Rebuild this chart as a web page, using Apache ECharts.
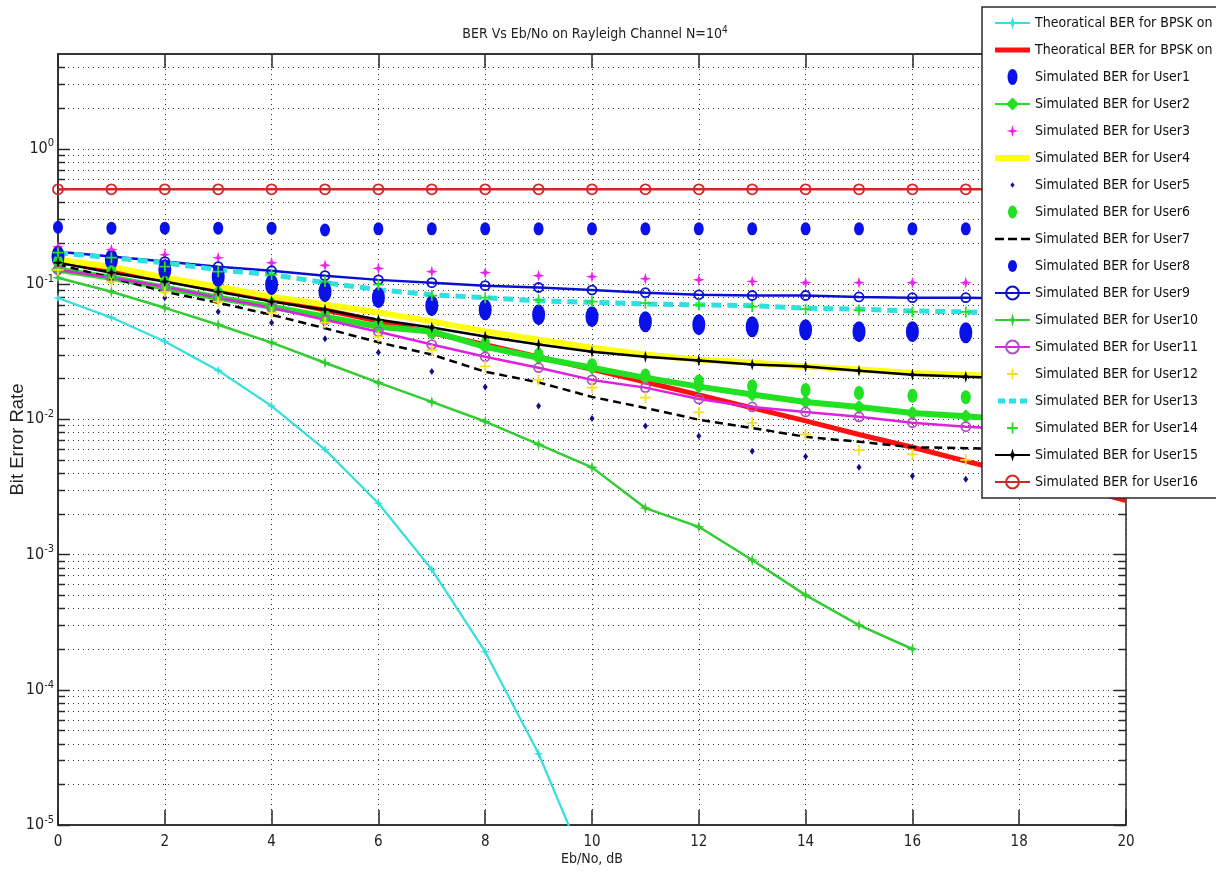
<!DOCTYPE html>
<html>
<head>
<meta charset="utf-8">
<script src="https://cdn.jsdelivr.net/npm/echarts@6/dist/echarts.min.js"></script>
<style>
  html, body { margin: 0; padding: 0; background: #fff; }
  #chart { width: 1216px; height: 876px; }
</style>
</head>
<body>
<div id="chart"></div>
<script>
// Eb/No axis (dB)
const ebNo = [0, 1, 2, 3, 4, 5, 6, 7, 8, 9, 10, 11, 12, 13, 14, 15, 16, 17, 18, 19, 20];
const xTicks = [0, 2, 4, 6, 8, 10, 12, 14, 16, 18, 20];

// Theoretical curves
const berAwgnTheory = [0.0786, 0.0563, 0.0375, 0.0229, 0.0125, 0.00595, 0.00239, 0.000773, 0.000191, 0.0000336, 0.00000387];
const berRayleighTheory = [0.146, 0.127, 0.109, 0.092, 0.077, 0.064, 0.053, 0.0435, 0.0355, 0.0288, 0.0233, 0.0188, 0.0151, 0.0121, 0.0097, 0.0077, 0.0062, 0.0049, 0.0039, 0.0032, 0.0025];

// Simulated BER per user
const user1 = [0.159, 0.151, 0.127, 0.113, 0.0986, 0.0875, 0.079, 0.069, 0.0644, 0.0592, 0.0572, 0.0525, 0.0499, 0.0482, 0.0458, 0.0443, 0.0443, 0.0435, 0.043, 0.042, 0.042];
const user2 = [0.127, 0.111, 0.0937, 0.079, 0.0677, 0.0572, 0.0482, 0.0445, 0.0342, 0.0284, 0.024, 0.0202, 0.0174, 0.0152, 0.0134, 0.0123, 0.0111, 0.0105, 0.0098, 0.0093, 0.0088];
const user3 = [0.188, 0.179, 0.164, 0.156, 0.143, 0.137, 0.130, 0.123, 0.121, 0.115, 0.113, 0.109, 0.107, 0.104, 0.102, 0.102, 0.102, 0.102, 0.101, 0.100, 0.100];
const user4 = [0.151, 0.134, 0.111, 0.0953, 0.0805, 0.0703, 0.0614, 0.0528, 0.0445, 0.0386, 0.0337, 0.030, 0.0275, 0.0262, 0.0245, 0.0233, 0.0219, 0.0213, 0.0205, 0.0198, 0.0192];
const user5 = [0.146, 0.107, 0.079, 0.0623, 0.0516, 0.0392, 0.0311, 0.0225, 0.0173, 0.0125, 0.0101, 0.0089, 0.0075, 0.0058, 0.0053, 0.0044, 0.0038, 0.0036, 0.0033, 0.0031, 0.0029];
const user6 = [0.146, 0.122, 0.102, 0.085, 0.070, 0.058, 0.050, 0.044, 0.036, 0.030, 0.025, 0.021, 0.019, 0.0175, 0.0164, 0.0156, 0.0149, 0.0145, 0.014, 0.0136, 0.0132];
const user7 = [0.139, 0.111, 0.0874, 0.0725, 0.059, 0.047, 0.037, 0.030, 0.0224, 0.0187, 0.0146, 0.0121, 0.0099, 0.0086, 0.0074, 0.0068, 0.0062, 0.0061, 0.0060, 0.0059, 0.0058];
const user8 = [0.262, 0.258, 0.258, 0.258, 0.258, 0.250, 0.255, 0.255, 0.255, 0.255, 0.255, 0.255, 0.255, 0.255, 0.255, 0.255, 0.255, 0.255, 0.255, 0.255, 0.255];
const user9 = [0.173, 0.159, 0.146, 0.134, 0.125, 0.115, 0.107, 0.102, 0.097, 0.094, 0.090, 0.086, 0.083, 0.082, 0.082, 0.080, 0.079, 0.079, 0.078, 0.078, 0.077];
const user10 = [0.111, 0.0874, 0.0665, 0.0499, 0.0368, 0.0261, 0.0186, 0.0134, 0.0096, 0.0065, 0.0044, 0.0022, 0.0016, 0.00091, 0.0005, 0.0003, 0.0002];
const user11 = [0.127, 0.111, 0.0953, 0.079, 0.0665, 0.0543, 0.0443, 0.0356, 0.0289, 0.0240, 0.0195, 0.0171, 0.0141, 0.0123, 0.0113, 0.0104, 0.0094, 0.0088, 0.0084, 0.0080, 0.0077];
const user12 = [0.127, 0.104, 0.0874, 0.0739, 0.0614, 0.0516, 0.0408, 0.0325, 0.0245, 0.0195, 0.0171, 0.0144, 0.0112, 0.0094, 0.0077, 0.0059, 0.0055, 0.0050, 0.0047, 0.0044, 0.0042];
const user13 = [0.170, 0.156, 0.143, 0.127, 0.117, 0.102, 0.0904, 0.083, 0.079, 0.075, 0.073, 0.071, 0.070, 0.069, 0.066, 0.065, 0.063, 0.062, 0.061, 0.060, 0.059];
const user14 = [0.170, 0.156, 0.134, 0.123, 0.117, 0.104, 0.0986, 0.082, 0.079, 0.076, 0.074, 0.072, 0.070, 0.068, 0.065, 0.064, 0.062, 0.062, 0.061, 0.061, 0.060];
const user15 = [0.1435, 0.121, 0.104, 0.0874, 0.0739, 0.0644, 0.0543, 0.0475, 0.0408, 0.0356, 0.0315, 0.0289, 0.0271, 0.0253, 0.0245, 0.0228, 0.0213, 0.0206, 0.020, 0.0195, 0.019];
const user16 = [0.5, 0.5, 0.5, 0.5, 0.5, 0.5, 0.5, 0.5, 0.5, 0.5, 0.5, 0.5, 0.5, 0.5, 0.5, 0.5, 0.5, 0.5, 0.5, 0.5, 0.5];

const yMin = 1e-5;
const yMax = 5;

const NARROW = "'Liberation Sans Narrow', 'Arial Narrow', 'DejaVu Sans Condensed', sans-serif";
const REGULAR = "'Liberation Sans', Arial, sans-serif";
const AXIS_COLOR = '#2a2a2a';
const TEXT_COLOR = '#222';

// marker shapes
const STAR = 'path://M0,-10 L2.2,-2.2 L10,0 L2.2,2.2 L0,10 L-2.2,2.2 L-10,0 L-2.2,-2.2 Z';
const PLUS = 'path://M-1.6,-10 H1.6 V-1.6 H10 V1.6 H1.6 V10 H-1.6 V1.6 H-10 V-1.6 H-1.6 Z';

// legend glyphs drawn inside a fixed 35 x 16 frame
const ICON_W = 35, ICON_H = 16;
const framed = inner => 'path://M0,0 M' + ICON_W + ',' + ICON_H + ' ' + inner;
const ellipse = (rx, ry) => {
  const cx = ICON_W / 2, cy = ICON_H / 2;
  return 'M' + cx + ',' + (cy - ry) + ' A' + rx + ',' + ry + ' 0 1,1 ' + cx + ',' + (cy + ry) +
         ' A' + rx + ',' + ry + ' 0 1,1 ' + cx + ',' + (cy - ry) + ' Z';
};
const ICON_BAR = h => framed('M0,' + (8 - h / 2) + ' H35 V' + (8 + h / 2) + ' H0 Z');
const ICON_DASH = (h, segs) => framed(segs.map(s => 'M' + s[0] + ',' + (8 - h / 2) + ' H' + s[1] + ' V' + (8 + h / 2) + ' H' + s[0] + ' Z').join(' '));
const ICON_STAR = framed('M17.5,2 L18.8,6.7 L23.5,8 L18.8,9.3 L17.5,14 L16.2,9.3 L11.5,8 L16.2,6.7 Z');
const ICON_PLUS = framed('M16.6,2.5 H18.4 V7.1 H23 V8.9 H18.4 V13.5 H16.6 V8.9 H12 V7.1 H16.6 Z');
const ICON_DOT = framed('M17.5,5.2 L19.6,8 L17.5,10.8 L15.4,8 Z');

const pairs = vals => vals.map((v, i) => [ebNo[i], v]);

// log grid rows: decades get a long tick, 2..9 multiples a short one
const yGridRows = [];
for (let d = -5; d <= 0; d++) {
  yGridRows.push([0, Math.pow(10, d), 12]);
  for (let k = 2; k <= 9; k++) {
    const v = k * Math.pow(10, d);
    if (v < yMax) yGridRows.push([0, v, 7]);
  }
}

function lineSeries(name, vals, color, width, opts) {
  return Object.assign({
    type: 'line', name: name, data: pairs(vals), color: color,
    symbol: 'none', showAllSymbol: true, clip: true, z: 3,
    lineStyle: { color: color, width: width },
    emphasis: { disabled: true }
  }, opts || {});
}
function markerSeries(name, vals, color, symbol, size) {
  return {
    type: 'scatter', name: name, data: pairs(vals), color: color,
    symbol: symbol, symbolSize: size, z: 3,
    itemStyle: { color: color, opacity: 1 },
    emphasis: { disabled: true }
  };
}
function openCircle(color) {
  return { color: 'rgba(255,255,255,0)', borderColor: color, borderWidth: 1.8 };
}

const names = [
  'Theoratical BER for BPSK on AWGN', 'Theoratical BER for BPSK on Rayleigh'
];
for (let u = 1; u <= 16; u++) names.push('Simulated BER for User' + u);

// legend entries; glyphs given where the default icon would not fit
const legendIcons = {
  1: ICON_BAR(5),
  2: framed(ellipse(5, 8)),
  4: ICON_STAR,
  5: ICON_BAR(6),
  6: ICON_DOT,
  7: framed(ellipse(4.5, 6.5)),
  8: ICON_DASH(2.5, [[0, 9], [13, 22], [26, 35]]),
  9: framed(ellipse(4.5, 6)),
  13: ICON_PLUS,
  14: ICON_DASH(5, [[3, 10], [14, 21], [25, 32]]),
  15: ICON_PLUS
};
const legendData = names.map((n, i) => (legendIcons[i] ? { name: n, icon: legendIcons[i] } : { name: n }));

const series = [
  {
    type: 'custom', name: 'log-grid', silent: true, z: 1, data: yGridRows,
    encode: { x: 0, y: 1 },
    renderItem: function (params, api) {
      const y = Math.round(api.coord([0, api.value(1)])[1]) + 0.5;
      const len = api.value(2);
      const cs = params.coordSys;
      const x0 = cs.x, x1 = cs.x + cs.width;
      return {
        type: 'group', children: [
          { type: 'line', shape: { x1: x0, y1: y, x2: x1, y2: y }, style: { stroke: '#333', lineWidth: 1, lineDash: [1, 4] } },
          { type: 'line', shape: { x1: x0, y1: y, x2: x0 + len, y2: y }, style: { stroke: AXIS_COLOR, lineWidth: 1.5 } },
          { type: 'line', shape: { x1: x1 - len, y1: y, x2: x1, y2: y }, style: { stroke: AXIS_COLOR, lineWidth: 1.5 } }
        ]
      };
    }
  },
  lineSeries(names[0], berAwgnTheory, '#36dede', 2.2, { symbol: STAR, symbolSize: 10 }),
  lineSeries(names[1], berRayleighTheory, '#ff1010', 5),
  markerSeries(names[2], user1, '#0a10e8', 'circle', [13, 21]),
  lineSeries(names[3], user2, '#22e022', 6, { symbol: 'diamond', symbolSize: 14 }),
  markerSeries(names[4], user3, '#f020f0', STAR, 12),
  lineSeries(names[5], user4, '#ffff10', 6),
  markerSeries(names[6], user5, '#10108a', 'diamond', [5, 7]),
  markerSeries(names[7], user6, '#22e022', 'circle', [10, 14]),
  lineSeries(names[8], user7, '#000000', 2.5, { lineStyle: { color: '#000', width: 2.5, type: [8, 5] } }),
  markerSeries(names[9], user8, '#0a10e8', 'circle', [10, 13]),
  lineSeries(names[10], user9, '#0a10d0', 2.5, { symbol: 'circle', symbolSize: 9, itemStyle: openCircle('#0a10d0') }),
  lineSeries(names[11], user10, '#33cc33', 2.5, { symbol: STAR, symbolSize: 12 }),
  lineSeries(names[12], user11, '#e020e0', 2.5, { symbol: 'circle', symbolSize: 9, itemStyle: openCircle('#b050c0') }),
  markerSeries(names[13], user12, '#f5e020', PLUS, 11),
  lineSeries(names[14], user13, '#30e0e0', 5, { lineStyle: { color: '#30e0e0', width: 5, type: [10, 6] } }),
  markerSeries(names[15], user14, '#22e022', PLUS, 11),
  lineSeries(names[16], user15, '#000000', 2.5, { symbol: STAR, symbolSize: 12 }),
  lineSeries(names[17], user16, '#d02828', 2.5, { symbol: 'circle', symbolSize: 10, itemStyle: openCircle('#d02828') })
];

const dotted = { color: '#333', width: 1, type: [1, 4] };

const option = {
  animation: false,
  backgroundColor: '#ffffff',
  title: {
    text: '{t|BER Vs Eb/No on Rayleigh Channel N=10}{s|4}',
    left: 590, top: 20, textAlign: 'center',
    textStyle: {
      fontWeight: 'normal',
      rich: {
        t: { fontFamily: NARROW, fontSize: 14, fontWeight: 'normal', color: TEXT_COLOR },
        s: { fontFamily: NARROW, fontSize: 10, fontWeight: 'normal', color: TEXT_COLOR, padding: [0, 0, 9, 0] }
      }
    }
  },
  legend: {
    data: legendData,
    orient: 'vertical',
    left: 982, top: 7,
    backgroundColor: '#ffffff',
    borderColor: AXIS_COLOR, borderWidth: 1.5, borderRadius: 0,
    padding: [8, 60, 8, 12],
    itemWidth: ICON_W, itemHeight: ICON_H, itemGap: 11,
    symbolKeepAspect: true,
    selectedMode: false,
    textStyle: { fontFamily: NARROW, fontSize: 14, color: '#111', lineHeight: 16 }
  },
  grid: {
    left: 58, top: 54, right: 90, bottom: 51,
    containLabel: false, outerBoundsMode: 'none',
    show: true, borderColor: AXIS_COLOR, borderWidth: 1.5, backgroundColor: '#fff'
  },
  xAxis: [
    {
      type: 'value', min: 0, max: 20, interval: 2,
      name: 'Eb/No, dB', nameLocation: 'middle', nameGap: 27, nameMoveOverlap: false,
      nameTextStyle: { fontFamily: NARROW, fontSize: 14, color: TEXT_COLOR },
      axisLine: { show: true, lineStyle: { color: AXIS_COLOR, width: 1.5 } },
      axisTick: { show: true, inside: true, length: 15, lineStyle: { color: AXIS_COLOR, width: 1.5 } },
      axisLabel: {
        margin: 10, fontFamily: NARROW, fontSize: 15, color: TEXT_COLOR,
        formatter: v => (xTicks.indexOf(v) >= 0 ? String(v) : '')
      },
      splitLine: { show: true, lineStyle: dotted }
    },
    {
      type: 'value', min: 0, max: 20, interval: 2, position: 'top',
      axisLine: { show: true, lineStyle: { color: AXIS_COLOR, width: 1.5 } },
      axisTick: { show: true, inside: true, length: 14, lineStyle: { color: AXIS_COLOR, width: 1.5 } },
      axisLabel: { show: false }, splitLine: { show: false }
    }
  ],
  yAxis: {
    type: 'log', logBase: 10, min: yMin, max: yMax,
    name: 'Bit Error Rate', nameLocation: 'middle', nameGap: 31, nameMoveOverlap: false,
    nameTextStyle: { fontFamily: REGULAR, fontSize: 18.5, color: TEXT_COLOR },
    axisLine: { show: true, lineStyle: { color: AXIS_COLOR, width: 1.5 } },
    axisTick: { show: false },
    axisLabel: {
      margin: 4, color: TEXT_COLOR,
      formatter: function (v) {
        const e = Math.round(Math.log10(v));
        if (Math.abs(v / Math.pow(10, e) - 1) > 1e-6) return '';
        return '{b|10}{s|' + e + '}';
      },
      rich: {
        b: { fontFamily: NARROW, fontSize: 16, color: TEXT_COLOR },
        s: { fontFamily: NARROW, fontSize: 11, color: TEXT_COLOR, padding: [0, 0, 10, 0] }
      }
    },
    splitLine: { show: false }
  },
  series: series
};

const chart = echarts.init(document.getElementById('chart'), null, { renderer: 'canvas' });
chart.setOption(option);
</script>
</body>
</html>
